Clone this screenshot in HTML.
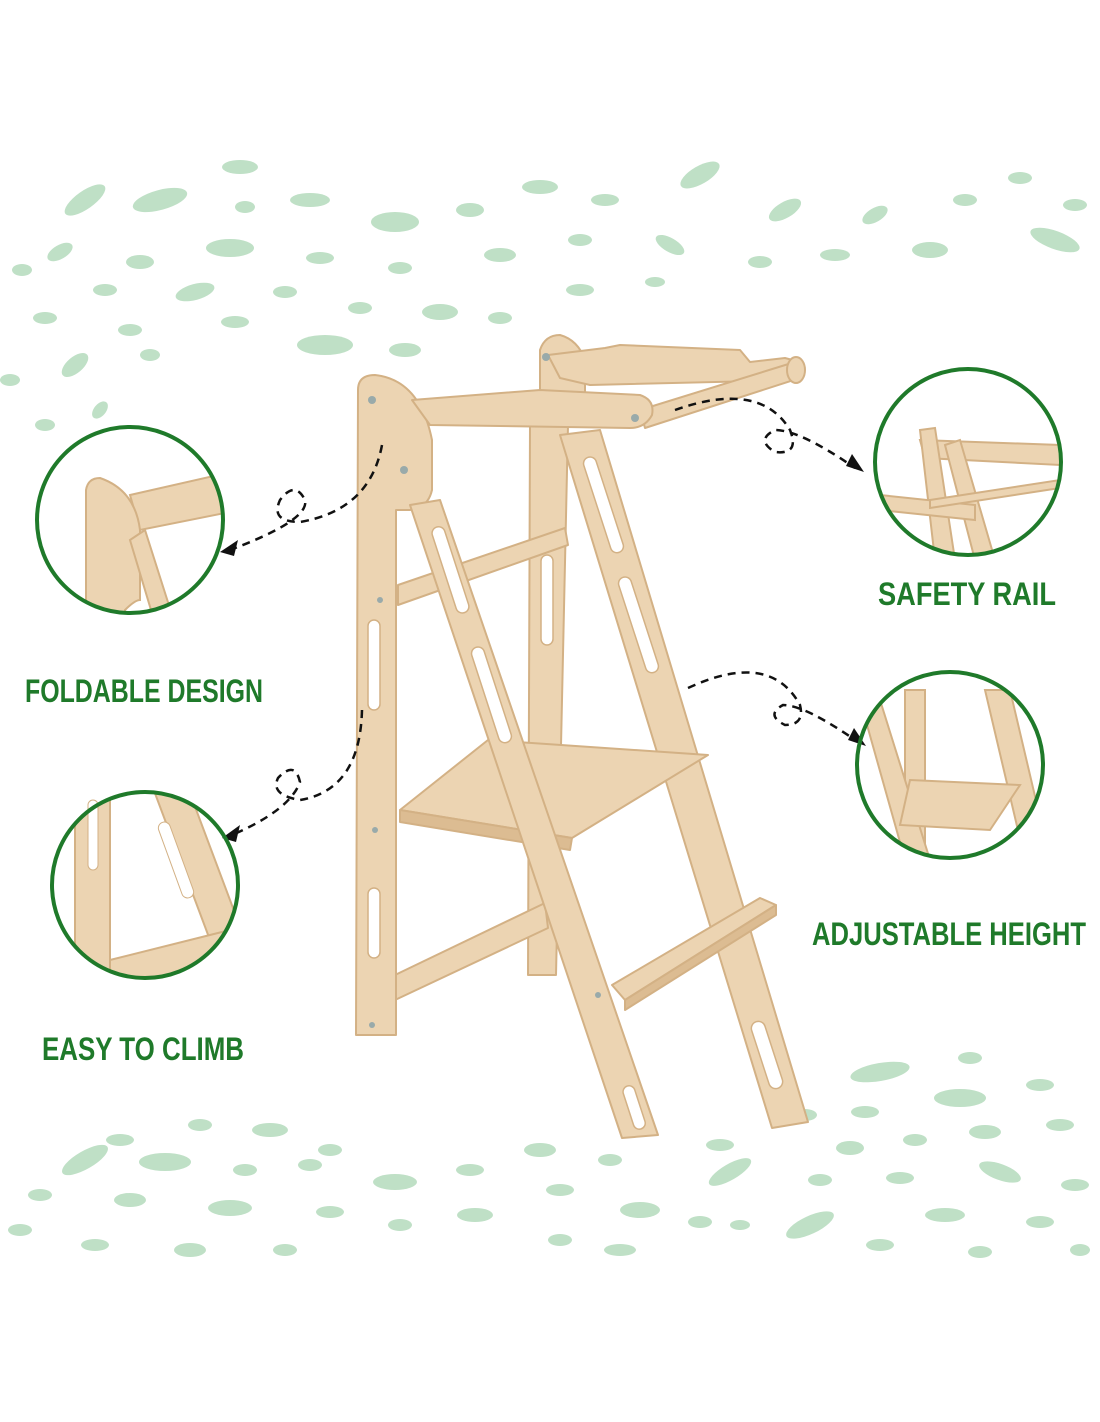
<!DOCTYPE html>
<html><head><meta charset="utf-8"><style>
html,body{margin:0;padding:0;background:#fff;}
svg{display:block}
text{font-family:"Liberation Sans Narrow","Liberation Sans",sans-serif;font-weight:bold;fill:#1f7a2a}
</style></head><body>
<svg width="1100" height="1422" viewBox="0 0 1100 1422" xmlns="http://www.w3.org/2000/svg">
<defs>
<clipPath id="c1"><circle cx="130" cy="520" r="93"/></clipPath>
<clipPath id="c2"><circle cx="145" cy="885" r="93"/></clipPath>
<clipPath id="c3"><circle cx="968" cy="462" r="93"/></clipPath>
<clipPath id="c4"><circle cx="950" cy="765" r="93"/></clipPath>
</defs>
<g fill="#bfe0c6">
<ellipse cx="240" cy="167" rx="18" ry="7"/><ellipse cx="160" cy="200" rx="28" ry="10" transform="rotate(-15 160 200)"/><ellipse cx="85" cy="200" rx="24" ry="9" transform="rotate(-35 85 200)"/>
<ellipse cx="245" cy="207" rx="10" ry="6"/><ellipse cx="310" cy="200" rx="20" ry="7"/><ellipse cx="395" cy="222" rx="24" ry="10"/>
<ellipse cx="470" cy="210" rx="14" ry="7"/><ellipse cx="540" cy="187" rx="18" ry="7"/><ellipse cx="605" cy="200" rx="14" ry="6"/>
<ellipse cx="700" cy="175" rx="22" ry="9" transform="rotate(-30 700 175)"/><ellipse cx="785" cy="210" rx="18" ry="8" transform="rotate(-30 785 210)"/>
<ellipse cx="875" cy="215" rx="14" ry="7" transform="rotate(-30 875 215)"/><ellipse cx="965" cy="200" rx="12" ry="6"/><ellipse cx="1020" cy="178" rx="12" ry="6"/><ellipse cx="1075" cy="205" rx="12" ry="6"/>
<ellipse cx="1055" cy="240" rx="26" ry="9" transform="rotate(20 1055 240)"/><ellipse cx="930" cy="250" rx="18" ry="8"/><ellipse cx="835" cy="255" rx="15" ry="6"/>
<ellipse cx="760" cy="262" rx="12" ry="6"/><ellipse cx="670" cy="245" rx="16" ry="7" transform="rotate(30 670 245)"/><ellipse cx="580" cy="240" rx="12" ry="6"/>
<ellipse cx="500" cy="255" rx="16" ry="7"/><ellipse cx="400" cy="268" rx="12" ry="6"/><ellipse cx="320" cy="258" rx="14" ry="6"/>
<ellipse cx="230" cy="248" rx="24" ry="9"/><ellipse cx="140" cy="262" rx="14" ry="7"/><ellipse cx="60" cy="252" rx="14" ry="7" transform="rotate(-30 60 252)"/>
<ellipse cx="22" cy="270" rx="10" ry="6"/><ellipse cx="195" cy="292" rx="20" ry="8" transform="rotate(-15 195 292)"/><ellipse cx="105" cy="290" rx="12" ry="6"/>
<ellipse cx="285" cy="292" rx="12" ry="6"/><ellipse cx="360" cy="308" rx="12" ry="6"/><ellipse cx="440" cy="312" rx="18" ry="8"/><ellipse cx="500" cy="318" rx="12" ry="6"/>
<ellipse cx="580" cy="290" rx="14" ry="6"/><ellipse cx="655" cy="282" rx="10" ry="5"/><ellipse cx="45" cy="318" rx="12" ry="6"/><ellipse cx="130" cy="330" rx="12" ry="6"/>
<ellipse cx="235" cy="322" rx="14" ry="6"/><ellipse cx="325" cy="345" rx="28" ry="10"/><ellipse cx="405" cy="350" rx="16" ry="7"/><ellipse cx="75" cy="365" rx="16" ry="8" transform="rotate(-40 75 365)"/>
<ellipse cx="150" cy="355" rx="10" ry="6"/><ellipse cx="10" cy="380" rx="10" ry="6"/><ellipse cx="100" cy="410" rx="10" ry="6" transform="rotate(-50 100 410)"/><ellipse cx="45" cy="425" rx="10" ry="6"/>
<ellipse cx="970" cy="1058" rx="12" ry="6"/><ellipse cx="880" cy="1072" rx="30" ry="9" transform="rotate(-10 880 1072)"/><ellipse cx="1040" cy="1085" rx="14" ry="6"/>
<ellipse cx="960" cy="1098" rx="26" ry="9"/><ellipse cx="865" cy="1112" rx="14" ry="6"/><ellipse cx="805" cy="1115" rx="12" ry="6"/><ellipse cx="1060" cy="1125" rx="14" ry="6"/>
<ellipse cx="985" cy="1132" rx="16" ry="7"/><ellipse cx="915" cy="1140" rx="12" ry="6"/><ellipse cx="850" cy="1148" rx="14" ry="7"/><ellipse cx="720" cy="1145" rx="14" ry="6"/>
<ellipse cx="200" cy="1125" rx="12" ry="6"/><ellipse cx="270" cy="1130" rx="18" ry="7"/><ellipse cx="120" cy="1140" rx="14" ry="6"/><ellipse cx="330" cy="1150" rx="12" ry="6"/>
<ellipse cx="85" cy="1160" rx="26" ry="9" transform="rotate(-30 85 1160)"/><ellipse cx="165" cy="1162" rx="26" ry="9"/><ellipse cx="245" cy="1170" rx="12" ry="6"/>
<ellipse cx="310" cy="1165" rx="12" ry="6"/><ellipse cx="395" cy="1182" rx="22" ry="8"/><ellipse cx="470" cy="1170" rx="14" ry="6"/><ellipse cx="540" cy="1150" rx="16" ry="7"/>
<ellipse cx="610" cy="1160" rx="12" ry="6"/><ellipse cx="730" cy="1172" rx="24" ry="8" transform="rotate(-30 730 1172)"/><ellipse cx="820" cy="1180" rx="12" ry="6"/>
<ellipse cx="900" cy="1178" rx="14" ry="6"/><ellipse cx="1000" cy="1172" rx="22" ry="8" transform="rotate(20 1000 1172)"/><ellipse cx="1075" cy="1185" rx="14" ry="6"/>
<ellipse cx="40" cy="1195" rx="12" ry="6"/><ellipse cx="130" cy="1200" rx="16" ry="7"/><ellipse cx="230" cy="1208" rx="22" ry="8"/><ellipse cx="330" cy="1212" rx="14" ry="6"/>
<ellipse cx="475" cy="1215" rx="18" ry="7"/><ellipse cx="560" cy="1190" rx="14" ry="6"/><ellipse cx="640" cy="1210" rx="20" ry="8"/><ellipse cx="700" cy="1222" rx="12" ry="6"/>
<ellipse cx="810" cy="1225" rx="26" ry="9" transform="rotate(-25 810 1225)"/><ellipse cx="945" cy="1215" rx="20" ry="7"/><ellipse cx="1040" cy="1222" rx="14" ry="6"/>
<ellipse cx="20" cy="1230" rx="12" ry="6"/><ellipse cx="95" cy="1245" rx="14" ry="6"/><ellipse cx="190" cy="1250" rx="16" ry="7"/><ellipse cx="285" cy="1250" rx="12" ry="6"/>
<ellipse cx="400" cy="1225" rx="12" ry="6"/><ellipse cx="560" cy="1240" rx="12" ry="6"/><ellipse cx="620" cy="1250" rx="16" ry="6"/><ellipse cx="740" cy="1225" rx="10" ry="5"/>
<ellipse cx="880" cy="1245" rx="14" ry="6"/><ellipse cx="980" cy="1252" rx="12" ry="6"/><ellipse cx="1080" cy="1250" rx="10" ry="6"/>
</g>
<g fill="#ecd4b2" stroke="#d3b185" stroke-width="2" stroke-linejoin="round">
<!-- rear frame tip -->
<path d="M540,350 Q545,335 560,335 Q578,340 585,360 L585,420 L540,420 Z"/>
<!-- rear rail board -->
<path d="M548,355 L605,348 L620,345 L740,350 L750,362 L785,358 L800,362 L800,380 L590,385 L560,378 Z"/>
<!-- back right post -->
<polygon points="530,425 568,425 556,975 528,975"/>
<!-- right diagonal ladder -->
<polygon points="560,435 600,430 808,1122 772,1128"/>
<!-- dowels -->
<polygon points="640,410 795,362 800,378 645,428"/>
<ellipse cx="796" cy="370" rx="9" ry="13"/>
<polygon points="398,585 565,528 568,545 398,605"/>
<polygon points="395,975 545,903 548,928 395,1000"/>
<polygon points="400,810 488,740 708,755 572,838"/>
<polygon points="400,810 572,838 570,850 400,822" fill="#dcbc92"/>
<polygon points="612,985 760,898 776,905 625,1000"/>
<polygon points="625,1000 776,905 776,915 625,1010" fill="#dcbc92"/>
<path d="M358,390 Q358,375 375,375 Q420,380 432,440 L432,490 Q428,508 410,510 L396,510 L396,1035 L356,1035 Z"/>
<polygon points="410,505 440,500 658,1135 622,1138"/>
<path d="M412,400 L540,390 L640,395 Q655,400 652,415 Q645,428 630,428 L430,425 Z"/>
</g>
<g fill="#fff" stroke="#d3b185" stroke-width="1.5">
<rect x="368" y="620" width="12" height="90" rx="6"/><rect x="368" y="888" width="12" height="70" rx="6"/>
<rect x="541" y="555" width="12" height="90" rx="6"/>
<rect x="444" y="525" width="13" height="90" rx="6.5" transform="rotate(-18 450 570)"/>
<rect x="485" y="645" width="13" height="100" rx="6.5" transform="rotate(-18 491 695)"/>
<rect x="597" y="455" width="13" height="100" rx="6.5" transform="rotate(-18 603 505)"/>
<rect x="632" y="575" width="13" height="100" rx="6.5" transform="rotate(-18 638 625)"/>
<rect x="760" y="1020" width="14" height="70" rx="7" transform="rotate(-18 767 1055)"/>
<rect x="628" y="1085" width="12" height="45" rx="6" transform="rotate(-18 634 1107)"/>
</g>
<g fill="#9aa"><circle cx="372" cy="400" r="4"/><circle cx="404" cy="470" r="4"/><circle cx="635" cy="418" r="4"/><circle cx="546" cy="357" r="4"/><circle cx="380" cy="600" r="3"/><circle cx="375" cy="830" r="3"/><circle cx="372" cy="1025" r="3"/><circle cx="598" cy="995" r="3"/></g>
<g fill="none" stroke="#111" stroke-width="2.5" stroke-dasharray="8,6">
<path d="M382,445 Q370,510 300,522 Q270,522 280,500 Q295,480 305,500 Q310,520 230,550"/>
<path d="M362,710 Q360,790 300,800 Q270,795 278,778 Q295,760 300,782 Q290,810 232,835"/>
<path d="M675,410 Q760,380 790,430 Q800,455 775,452 Q755,440 775,430 Q800,430 855,468"/>
<path d="M688,688 Q770,650 800,705 Q805,725 785,725 Q765,715 783,705 Q805,705 858,742"/>
</g>
<g fill="#111"><polygon points="220,552 238,540 234,556"/><polygon points="222,838 240,825 236,842"/><polygon points="864,472 846,466 852,454"/><polygon points="866,746 848,740 854,728"/></g>
<g clip-path="url(#c1)" fill="#ecd4b2" stroke="#d3b185" stroke-width="2">
<polygon points="130,495 240,470 240,510 140,530"/>
<path d="M86,490 Q88,478 100,478 Q135,490 140,530 L140,600 Q135,600 125,610 L125,640 L86,640 Z"/>
<polygon points="130,540 145,530 180,640 160,640"/>
</g>
<g clip-path="url(#c2)" fill="#ecd4b2" stroke="#d3b185" stroke-width="2">
<rect x="75" y="780" width="35" height="200"/>
<polygon points="150,780 185,780 260,980 225,980"/>
<polygon points="110,960 230,930 240,960 110,990"/>
</g>
<g fill="#fff" stroke="#d3b185"><rect x="88" y="800" width="10" height="70" rx="5"/><rect x="170" y="820" width="12" height="80" rx="6" transform="rotate(-20 176 860)"/></g>
<g clip-path="url(#c3)" fill="#ecd4b2" stroke="#d3b185" stroke-width="2">
<polygon points="920,440 1060,445 1060,465 925,458"/>
<polygon points="920,430 935,428 955,560 935,560"/>
<polygon points="945,445 960,440 995,560 975,560"/>
<polygon points="880,495 975,505 975,520 880,510"/>
<polygon points="930,500 1060,480 1060,488 930,508"/>
</g>
<g clip-path="url(#c4)" fill="#ecd4b2" stroke="#d3b185" stroke-width="2">
<polygon points="905,690 925,690 925,860 905,860"/>
<polygon points="860,700 880,700 930,860 905,860"/>
<polygon points="985,690 1010,690 1050,860 1025,860"/>
<polygon points="910,780 1020,785 990,830 900,825"/>
</g>
<g fill="none" stroke="#1f7a2a" stroke-width="4">
<circle cx="130" cy="520" r="93"/><circle cx="145" cy="885" r="93"/><circle cx="968" cy="462" r="93"/><circle cx="950" cy="765" r="93"/>
</g>
<text x="25" y="702" font-size="32" textLength="238" lengthAdjust="spacingAndGlyphs">FOLDABLE DESIGN</text>
<text x="42" y="1060" font-size="32" textLength="202" lengthAdjust="spacingAndGlyphs">EASY TO CLIMB</text>
<text x="878" y="605" font-size="32" textLength="178" lengthAdjust="spacingAndGlyphs">SAFETY RAIL</text>
<text x="812" y="945" font-size="32" textLength="274" lengthAdjust="spacingAndGlyphs">ADJUSTABLE HEIGHT</text>
</svg>
</body></html>
